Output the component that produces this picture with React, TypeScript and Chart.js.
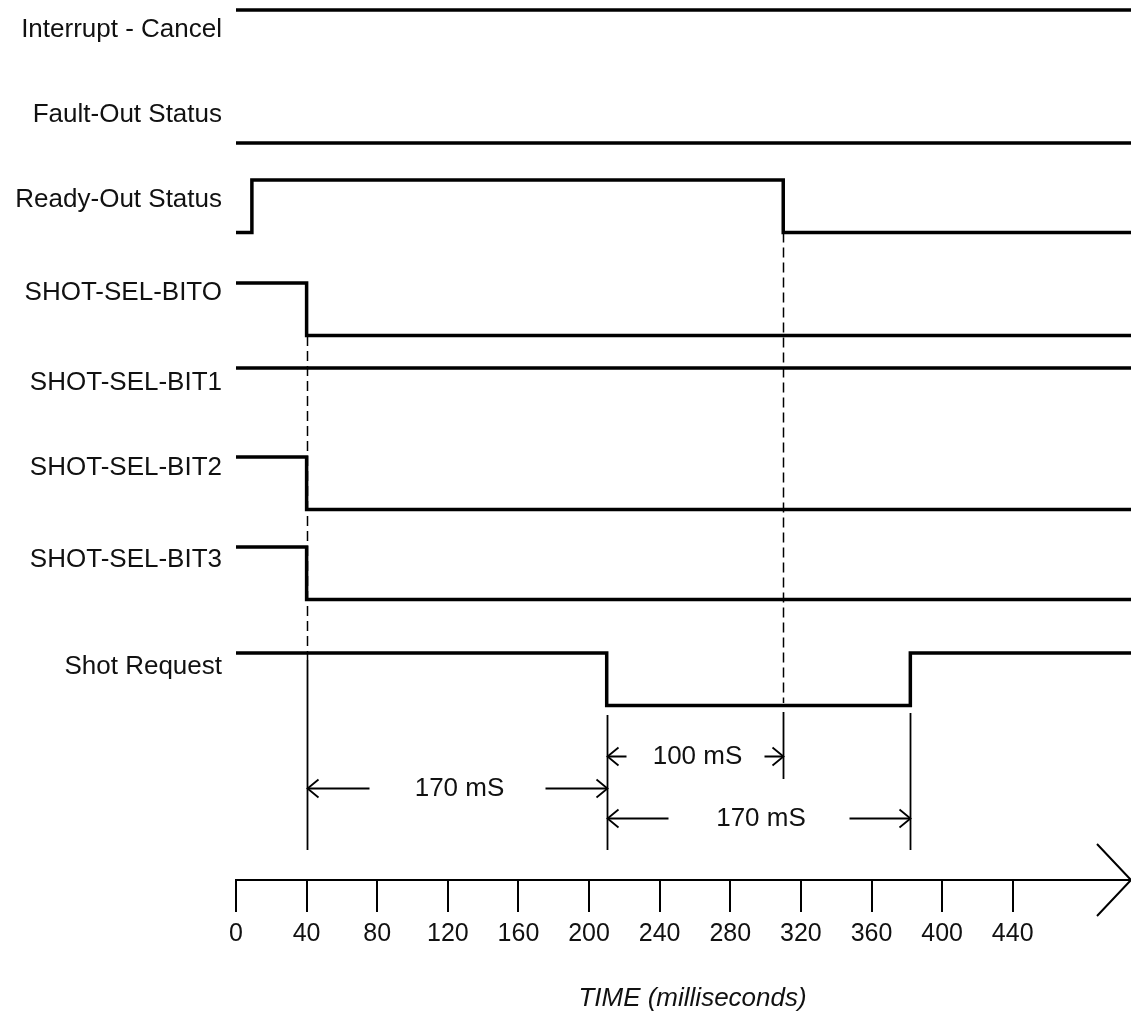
import React, { useEffect, useRef } from 'react';
import { Chart, registerables } from 'chart.js';

Chart.register(...registerables);

// ---------------- data ----------------
const signalNames = [
  'Interrupt - Cancel',
  'Fault-Out Status',
  'Ready-Out Status',
  'SHOT-SEL-BITO',
  'SHOT-SEL-BIT1',
  'SHOT-SEL-BIT2',
  'SHOT-SEL-BIT3',
  'Shot Request',
];

// transition times (ms) and the level (1 = high, 0 = low) from that time on
const interruptTimes = [0];
const interruptLevels = [1];
const faultTimes = [0];
const faultLevels = [0];
const readyTimes = [0, 9, 310];
const readyLevels = [0, 1, 0];
const bit0Times = [0, 40];
const bit0Levels = [1, 0];
const bit1Times = [0];
const bit1Levels = [1];
const bit2Times = [0, 40];
const bit2Levels = [1, 0];
const bit3Times = [0, 40];
const bit3Levels = [1, 0];
const shotTimes = [0, 210, 382];
const shotLevels = [1, 0, 1];

const timeTicks = [0, 40, 80, 120, 160, 200, 240, 280, 320, 360, 400, 440];
const timeMax = 507;

const dimStarts = [40, 210, 210];
const dimEnds = [210, 310, 382];
const dimLabels = ['170 mS', '100 mS', '170 mS'];

const axisTitle = 'TIME (milliseconds)';

// ---------------- layout (y in lane units, 0 = top) ----------------
const Y_MAX = 88;
const LANE_HIGH = [1.0, 9.05, 18.0, 28.3, 36.8, 45.7, 54.7, 65.3];
const SWING = 5.25;
const LABEL_Y = [3.0, 11.5, 20.0, 29.3, 38.3, 46.8, 56.0, 66.7];
const DIM_ROW_Y = [78.8, 75.6, 81.8];
const DIM_SHAFT_PX = [62, 19, 61];

const FONT = "'Liberation Sans', Arial, Helvetica, sans-serif";
const INK = '#000';
const TEXT = '#111';

const signalTimes = [interruptTimes, faultTimes, readyTimes, bit0Times, bit1Times, bit2Times, bit3Times, shotTimes];
const signalLevels = [interruptLevels, faultLevels, readyLevels, bit0Levels, bit1Levels, bit2Levels, bit3Levels, shotLevels];

const GUIDES = [
  { t: bit0Times[1], dash: [33.6, 66.0], solid: [66.0, 85.0] },
  { t: shotTimes[1], solid: [71.5, 85.0] },
  { t: readyTimes[2], dash: [23.25, 70.3], solid: [71.2, 77.9] },
  { t: shotTimes[2], solid: [71.3, 85.0] },
];

function buildPoints(times: number[], levels: number[], lane: number) {
  const pts = times.map((t, i) => ({ x: t, y: LANE_HIGH[lane] + (1 - levels[i]) * SWING }));
  pts.push({ x: timeMax, y: pts[pts.length - 1].y });
  return pts;
}

const overlay = {
  id: 'overlay',
  beforeDatasetsDraw(chart: any) {
    const { ctx } = chart;
    const xs = chart.scales.x;
    const ys = chart.scales.y;
    ctx.save();
    ctx.strokeStyle = INK;
    GUIDES.forEach((g: any) => {
      const x = Math.round(xs.getPixelForValue(g.t)) + 0.5;
      if (g.dash) {
        ctx.lineWidth = 1.5;
        ctx.setLineDash([10, 5]);
        ctx.beginPath();
        ctx.moveTo(x, ys.getPixelForValue(g.dash[0]));
        ctx.lineTo(x, ys.getPixelForValue(g.dash[1]));
        ctx.stroke();
      }
      if (g.solid) {
        ctx.lineWidth = 1.8;
        ctx.setLineDash([]);
        ctx.beginPath();
        ctx.moveTo(x, ys.getPixelForValue(g.solid[0]));
        ctx.lineTo(x, ys.getPixelForValue(g.solid[1]));
        ctx.stroke();
      }
    });
    ctx.restore();
  },
  afterDraw(chart: any) {
    const { ctx } = chart;
    const xs = chart.scales.x;
    const ys = chart.scales.y;
    ctx.save();
    ctx.strokeStyle = INK;
    ctx.fillStyle = TEXT;
    ctx.setLineDash([]);
    ctx.lineCap = 'butt';
    ctx.lineJoin = 'miter';

    // dimension arrows
    const head = (tx: number, ty: number, dir: number) => {
      ctx.beginPath();
      ctx.moveTo(tx + dir * 11, ty - 9);
      ctx.lineTo(tx, ty);
      ctx.lineTo(tx + dir * 11, ty + 9);
      ctx.stroke();
    };
    ctx.font = `26px ${FONT}`;
    ctx.textAlign = 'center';
    ctx.textBaseline = 'middle';
    dimStarts.forEach((s, i) => {
      const x1 = Math.round(xs.getPixelForValue(s)) + 0.5;
      const x2 = Math.round(xs.getPixelForValue(dimEnds[i])) + 0.5;
      const y = Math.round(ys.getPixelForValue(DIM_ROW_Y[i])) + 0.5;
      const len = DIM_SHAFT_PX[i];
      ctx.lineWidth = 2;
      ctx.beginPath();
      ctx.moveTo(x1, y);
      ctx.lineTo(x1 + len, y);
      ctx.moveTo(x2 - len, y);
      ctx.lineTo(x2, y);
      ctx.stroke();
      ctx.lineWidth = 1.8;
      head(x1, y, 1);
      head(x2, y, -1);
      ctx.fillText(dimLabels[i], (x1 + x2) / 2 + 2, y);
    });

    // axis arrow head at the end of the time axis
    const ax = xs.right;
    const ay = xs.top;
    ctx.lineWidth = 2;
    ctx.beginPath();
    ctx.moveTo(ax - 34, ay - 36);
    ctx.lineTo(ax, ay);
    ctx.lineTo(ax - 34, ay + 36);
    ctx.stroke();

    // axis title
    ctx.font = `italic 26px ${FONT}`;
    ctx.textAlign = 'center';
    ctx.textBaseline = 'middle';
    ctx.fillText(axisTitle, (xs.left + xs.right) / 2 + 9, chart.height - 16);
    ctx.restore();
  },
};

export default function App() {
  const canvasRef = useRef<HTMLCanvasElement | null>(null);

  useEffect(() => {
    const canvas = canvasRef.current;
    if (!canvas) return;
    const datasets = signalNames.map((name, i) => ({
      label: name,
      data: buildPoints(signalTimes[i], signalLevels[i], i),
      stepped: true,
      borderColor: INK,
      borderWidth: 3.5,
      pointRadius: 0,
      fill: false,
      tension: 0,
      borderJoinStyle: 'miter',
      borderCapStyle: 'butt',
    }));

    const chart = new Chart(canvas, {
      type: 'line',
      data: { datasets } as any,
      options: {
        animation: false,
        responsive: false,
        devicePixelRatio: 1,
        events: [],
        layout: { padding: { left: 0, right: 0, top: 0, bottom: 59 } },
        plugins: {
          legend: { display: false },
          tooltip: { enabled: false },
          title: { display: false },
        },
        scales: {
          x: {
            type: 'linear',
            position: 'bottom',
            min: 0,
            max: timeMax,
            afterBuildTicks: (s: any) => {
              s.ticks = timeTicks.map((v) => ({ value: v }));
            },
            grid: {
              display: true,
              drawOnChartArea: false,
              drawTicks: true,
              tickLength: 32,
              tickWidth: 2,
              lineWidth: 2,
              tickColor: INK,
              color: INK,
            },
            border: { display: true, color: INK, width: 2 },
            ticks: {
              autoSkip: false,
              maxRotation: 0,
              minRotation: 0,
              padding: 7,
              color: TEXT,
              font: { family: FONT, size: 25 },
              callback: (v: any) => String(v),
            },
          },
          y: {
            type: 'linear',
            position: 'left',
            reverse: true,
            min: 0,
            max: Y_MAX,
            afterBuildTicks: (s: any) => {
              s.ticks = LABEL_Y.map((v) => ({ value: v }));
            },
            afterFit: (s: any) => {
              s.width = 236;
              s.paddingTop = 0;
              s.paddingBottom = 0;
            },
            grid: { display: false, drawTicks: false },
            border: { display: false },
            ticks: {
              autoSkip: false,
              padding: 14,
              color: TEXT,
              font: { family: FONT, size: 26 },
              callback: (_v: any, i: number) => signalNames[i],
            },
          },
        },
      } as any,
      plugins: [overlay],
    });
    return () => chart.destroy();
  }, []);

  return (
    <div style={{ position: 'absolute', left: 0, top: 0, width: 1131, height: 1015, background: '#fff' }}>
      <canvas ref={canvasRef} width={1131} height={1015} style={{ display: 'block' }} />
    </div>
  );
}
